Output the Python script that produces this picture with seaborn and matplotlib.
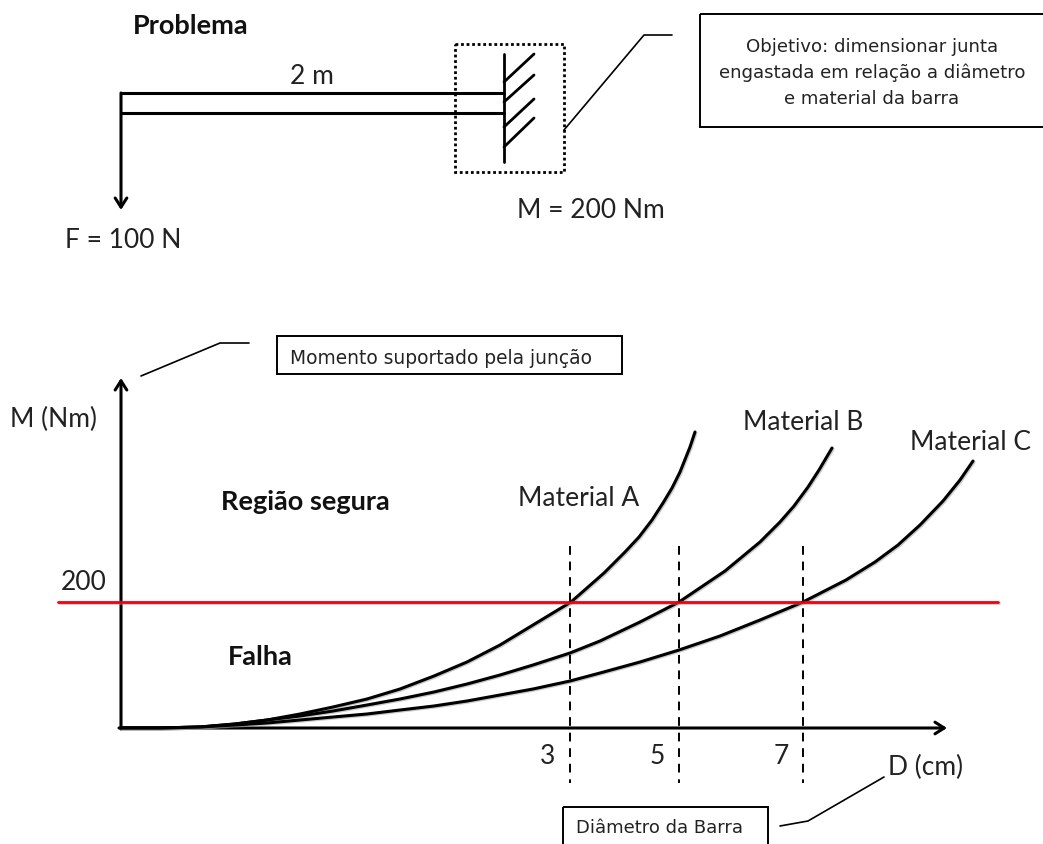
import matplotlib
matplotlib.use("Agg")
import matplotlib.pyplot as plt
import matplotlib.patheffects as pe
import pandas as pd
import seaborn as sns

sns.set_theme(style="white")
plt.rcParams["font.family"] = ["Lato", "DejaVu Sans"]

material_a_x = [121, 160, 200, 235, 267, 300, 333, 367, 400, 434, 467, 500, 533, 571, 604, 625, 639, 652, 663, 672, 680, 690, 695]
material_a_y = [728, 728, 727, 724, 720, 714, 707, 699, 689, 676, 662, 645, 625, 602, 573, 552, 537, 520, 503, 488, 472, 447, 432]
material_b_x = [121, 160, 200, 235, 267, 300, 333, 367, 400, 434, 467, 500, 533, 570, 600, 640, 679, 725, 760, 780, 794, 808, 819, 832]
material_b_y = [728, 728, 727, 724, 720, 716, 711, 705, 699, 692, 684, 675, 665, 653, 641, 622, 602, 571, 542, 522, 506, 487, 470, 448]
material_c_x = [121, 160, 200, 235, 267, 300, 333, 367, 400, 434, 467, 500, 533, 570, 600, 640, 679, 720, 760, 803, 846, 875, 898, 920, 943, 960, 973]
material_c_y = [728, 728, 727, 725, 723, 720, 717, 714, 710, 706, 701, 695, 689, 681, 673, 662, 650, 636, 620, 602, 580, 562, 545, 525, 501, 480, 461]

limit_x = [58, 998]
limit_y = [602, 602]
dashed_x = [570, 679, 803]
dashed_y = [546, 783]

beam_top_x = [121, 504]
beam_top_y = [93, 93]
beam_bottom_x = [121, 504]
beam_bottom_y = [113, 113]
wall_x = [504, 504]
wall_y = [54, 162]
hatch_left_y = [82, 102, 127, 147]
hatch_right_y = [54, 75, 99, 118]
leader_top_x = [564, 644, 672]
leader_top_y = [130, 35, 35]
leader_moment_x = [141, 220, 249]
leader_moment_y = [376, 343, 343]
leader_diam_x = [780, 808, 884]
leader_diam_y = [826, 821, 777]

plain_labels = ["2 m", "F = 100 N", "M = 200 Nm", "M (Nm)", "200", "Material A", "Material B", "Material C", "3", "5", "7", "D (cm)"]
plain_x = [312, 123, 591, 54, 84, 579, 803, 970, 548, 657, 781, 926]
plain_y = [77, 241, 210, 419, 583, 499, 422, 442, 756, 756, 756, 767]
bold_labels = ["Problema", "Região segura", "Falha"]
bold_x = [191, 305, 260]
bold_y = [26, 502, 657]

goal_lines = "Objetivo: dimensionar junta\nengastada em relação a diâmetro\ne material da barra"

curves = pd.concat([
    pd.DataFrame({"x": material_a_x, "y": material_a_y, "material": "A"}),
    pd.DataFrame({"x": material_b_x, "y": material_b_y, "material": "B"}),
    pd.DataFrame({"x": material_c_x, "y": material_c_y, "material": "C"}),
])

fig, ax = plt.subplots(figsize=(10.43, 8.44), dpi=100)
fig.subplots_adjust(0, 0, 1, 1)
ax.set_xlim(0, 1043)
ax.set_ylim(844, 0)
ax.axis("off")

soft = [pe.SimpleLineShadow(offset=(0.8, -0.8), shadow_color="#999999", alpha=0.5), pe.Normal()]

sns.lineplot(data=curves, x="x", y="y", hue="material", palette=["black"] * 3, sort=False,
             estimator=None, legend=False, linewidth=2.2, ax=ax, zorder=3, path_effects=soft)

# red limit line and dashed guides
ax.plot(limit_x, limit_y, color="#f00010", lw=2.0, zorder=4, path_effects=soft)
for x in dashed_x:
    ax.plot([x, x], dashed_y, color="black", lw=1.4, ls=(0, (4.5, 3.5)), zorder=5)

# axes of the sketch
arrow = dict(arrowstyle="->,head_length=0.55,head_width=0.35", lw=2.2, color="black", shrinkA=0, shrinkB=0)
ax.annotate("", xy=(947, 728), xytext=(119, 728), arrowprops=arrow, zorder=2)
ax.annotate("", xy=(121, 378), xytext=(121, 729), arrowprops=arrow, zorder=2)
ax.annotate("", xy=(121, 210), xytext=(121, 93), arrowprops=arrow, zorder=2)

# beam and wall
ax.plot(beam_top_x, beam_top_y, color="black", lw=2.2)
ax.plot(beam_bottom_x, beam_bottom_y, color="black", lw=2.2)
ax.plot(wall_x, wall_y, color="black", lw=2.0)
for left, right in zip(hatch_left_y, hatch_right_y):
    ax.plot([504, 534], [left, right], color="black", lw=2.0)
ax.add_patch(plt.Rectangle((455, 44), 109, 128, fill=False, ec="black", lw=2.0, ls=(0, (1, 1))))

for xs, ys in [(leader_top_x, leader_top_y), (leader_moment_x, leader_moment_y), (leader_diam_x, leader_diam_y)]:
    ax.plot(xs, ys, color="black", lw=1.2)

# boxes
ax.add_patch(plt.Rectangle((700, 14), 345, 113, fill=False, ec="black", lw=1.4, clip_on=True))
ax.add_patch(plt.Rectangle((277, 336), 345, 38, fill=False, ec="black", lw=1.4))
ax.add_patch(plt.Rectangle((563, 807), 205, 60, fill=False, ec="black", lw=1.4))

ax.text(872, 73, goal_lines, family="DejaVu Sans", fontsize=13.1, ha="center", va="center", color="#222222", linespacing=1.55)
ax.text(290, 358, "Momento suportado pela junção", family="DejaVu Sans", fontsize=13.4, va="center", color="#222222")
ax.text(576, 828, "Diâmetro da Barra", family="DejaVu Sans", fontsize=13, va="center", color="#222222")

for label, x, y in zip(plain_labels, plain_x, plain_y):
    ax.text(x, y, label, fontsize=19, ha="center", va="center", color="#222222")
for label, x, y in zip(bold_labels, bold_x, bold_y):
    ax.text(x, y, label, fontsize=19.5, fontweight="bold", ha="center", va="center", color="#111111")

fig.savefig("out.png", dpi=100)
